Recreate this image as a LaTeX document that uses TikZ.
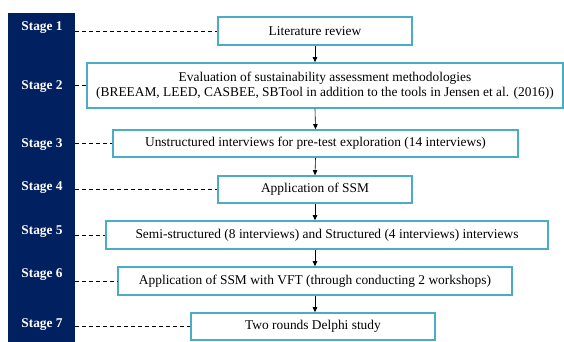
\documentclass[tikz,border=0pt]{standalone}
\usepackage{fontspec}
\setmainfont{Liberation Serif}
\usetikzlibrary{arrows.meta}
\definecolor{stagenavy}{HTML}{002060}
\definecolor{boxaqua}{HTML}{4BACC6}
\tikzset{
    stagebar/.style={fill=stagenavy,inner sep=0pt,outer sep=0pt,minimum width=67pt,minimum height=329pt},
    stagelabel/.style={text=white,font=\fontsize{13.4}{15}\selectfont\bfseries,inner sep=0pt},
    stepbox/.style={draw=boxaqua,line width=1.6pt,fill=white,inner sep=0pt,align=center,font=\fontsize{13.4}{15}\selectfont},
    link/.style={black,line width=0.6pt,-{Triangle[length=5pt,width=4.5pt]}},
    guide/.style={black,line width=0.8pt,dash pattern=on 4pt off 3pt}
}

\begin{document}
\begin{tikzpicture}[x=1pt,y=-1pt]
                            \useasboundingbox (0,0) rectangle (564,342);
                            \node[stagebar] (col) at (41.5,177.5) {};
                            \node[stagelabel] (s1) at (42,28) {Stage 1};
                            \node[stagelabel] (s2) at (42,87) {Stage 2};
                            \node[stagelabel] (s3) at (42,145) {Stage 3};
                            \node[stagelabel] (s4) at (42,188) {Stage 4};
                            \node[stagelabel] (s5) at (42,232) {Stage 5};
                            \node[stagelabel] (s6) at (42,275) {Stage 6};
                            \node[stagelabel] (s7) at (42,325) {Stage 7};
                            \node[stepbox,minimum width=194pt,minimum height=28pt] (b1) at (315,31) {Literature review};
                            \node[stepbox,minimum width=476pt,minimum height=45pt] (b2) at (325,85.5) {Evaluation of sustainability assessment methodologies\\(BREEAM, LEED, CASBEE, SBTool in addition to the tools in Jensen et al. (2016))};
                            \node[stepbox,minimum width=405pt,minimum height=27pt] (b3) at (315.5,143.5) {Unstructured interviews for pre-test exploration (14 interviews)};
                            \node[stepbox,minimum width=194pt,minimum height=27pt] (b4) at (315,189.5) {Application of SSM};
                            \node[stepbox,minimum width=442pt,minimum height=28pt] (b5) at (327,235) {Semi-structured (8 interviews) and Structured (4 interviews) interviews};
                            \node[stepbox,minimum width=394pt,minimum height=28pt] (b6) at (315,281) {Application of SSM with VFT (through conducting 2 workshops)};
                            \node[stepbox,minimum width=244pt,minimum height=27pt] (b7) at (313,326.5) {Two rounds Delphi study};
                            \draw[link] (b1.south) -- (b1.south |- b2.north);
                            \draw[link] (b1.south |- b2.south) -- (b3.north);
                            \draw[link] (b3.south) -- (b4.north);
                            \draw[link] (b4.south) -- (b4.south |- b5.north);
                            \draw[link] (b4.south |- b5.south) -- (b6.north);
                            \draw[link] (b6.south) -- (b6.south |- b7.north);
                            \foreach \i in {1,...,7}
                                \draw[guide] (col.east |- b\i.west) -- (b\i.west);
                        \end{tikzpicture}
\end{document}
